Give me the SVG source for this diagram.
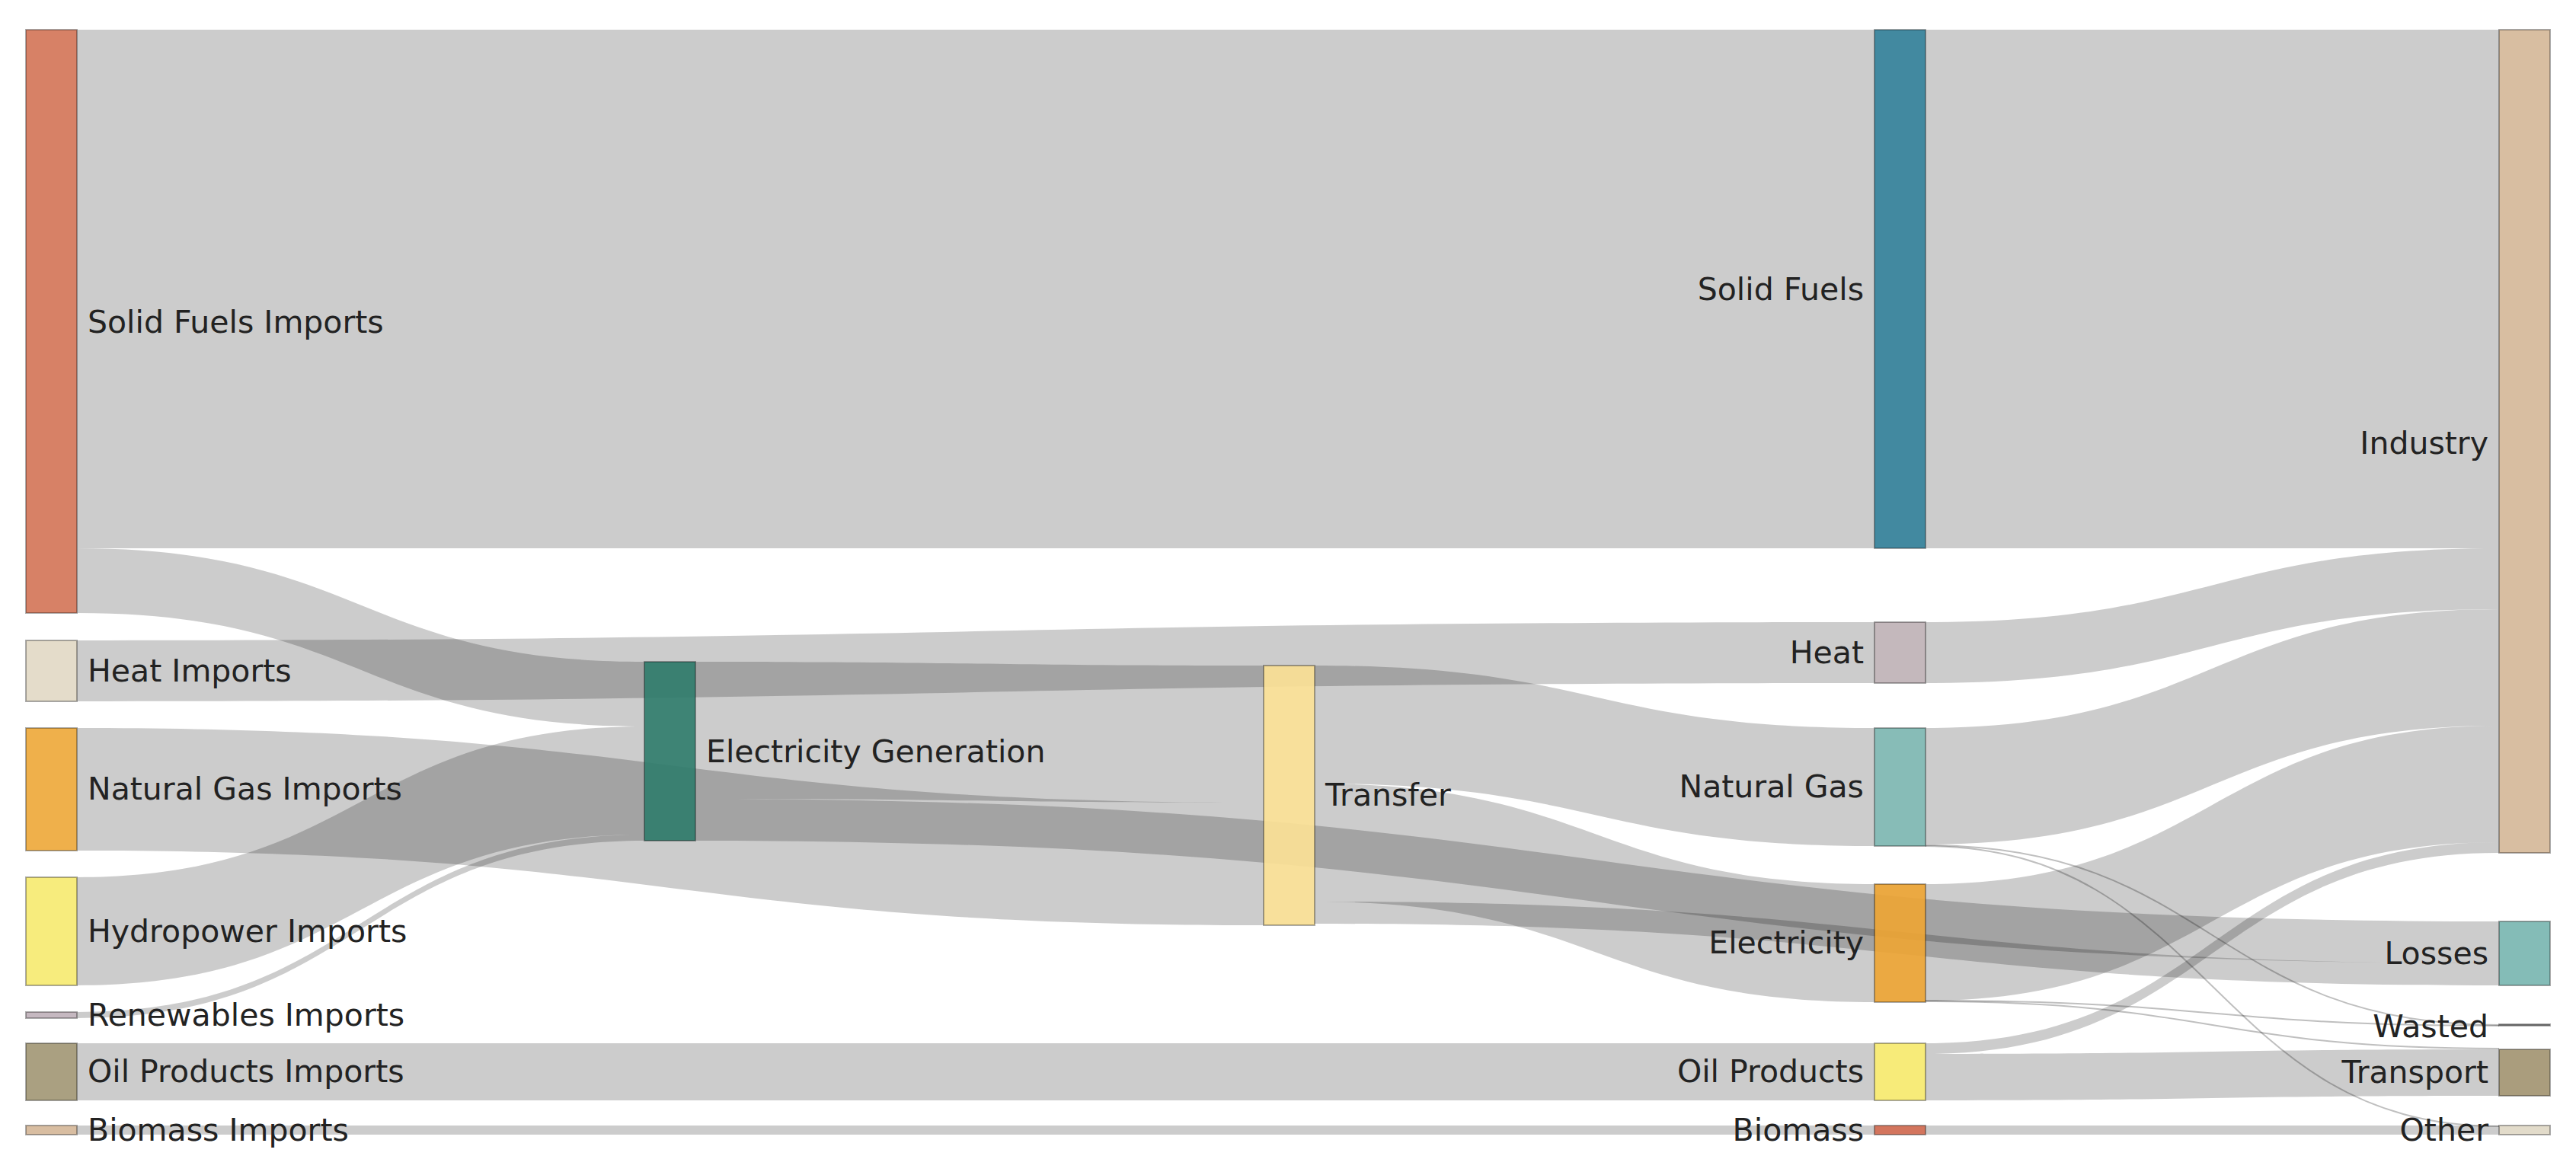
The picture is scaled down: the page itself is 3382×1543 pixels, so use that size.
<svg xmlns="http://www.w3.org/2000/svg" width="3382" height="1543" viewBox="0 0 3382 1543">
<style>
.lk{fill:rgba(0,0,0,0.2);stroke:none}
.th{fill:none;stroke:rgba(0,0,0,0.25);stroke-width:2}
.nd{stroke:rgba(0,0,0,0.35);stroke-width:2;opacity:0.92}
.lb{font-family:"DejaVu Sans",Verdana,sans-serif;font-size:41px;fill:#222}
.r{text-anchor:end}
</style>
<rect width="3382" height="1543" fill="#fff"/>
<g id="links">
<path class="lk" d="M101 39 C1281 39 1281 39 2461 39 L2461 720 C1281 720 1281 720 101 720 Z"/>
<path class="lk" d="M101 720 C473.5 720 473.5 869 846 869 L846 954 C473.5 954 473.5 805 101 805 Z"/>
<path class="lk" d="M101 841 C1281 841 1281 817 2461 817 L2461 897 C1281 897 1281 921 101 921 Z"/>
<path class="lk" d="M101 956 C880 956 880 1054 1659 1054 L1659 1215 C880 1215 880 1117 101 1117 Z"/>
<path class="lk" d="M101 1152 C473.5 1152 473.5 954 846 954 L846 1096 C473.5 1096 473.5 1294 101 1294 Z"/>
<path class="lk" d="M101 1329 C473.5 1329 473.5 1096 846 1096 L846 1104 C473.5 1104 473.5 1337 101 1337 Z"/>
<path class="lk" d="M101 1370 C1281 1370 1281 1370 2461 1370 L2461 1445 C1281 1445 1281 1445 101 1445 Z"/>
<path class="lk" d="M101 1478 C1281 1478 1281 1478 2461 1478 L2461 1490 C1281 1490 1281 1490 101 1490 Z"/>
<path class="lk" d="M913 869 C1286 869 1286 874 1659 874 L1659 1054 C1286 1054 1286 1049 913 1049 Z"/>
<path class="lk" d="M913 1049 C2097 1049 2097 1210 3281 1210 L3281 1265 C2097 1265 2097 1104 913 1104 Z"/>
<path class="lk" d="M1726 874 C2093.5 874 2093.5 956 2461 956 L2461 1111 C2093.5 1111 2093.5 1029 1726 1029 Z"/>
<path class="lk" d="M1726 1029 C2093.5 1029 2093.5 1161 2461 1161 L2461 1316 C2093.5 1316 2093.5 1184 1726 1184 Z"/>
<path class="lk" d="M1726 1184 C2503.5 1184 2503.5 1265 3281 1265 L3281 1294 C2503.5 1294 2503.5 1213 1726 1213 Z"/>
<path class="lk" d="M2528 39 C2904.5 39 2904.5 39 3281 39 L3281 720 C2904.5 720 2904.5 720 2528 720 Z"/>
<path class="lk" d="M2528 817 C2904.5 817 2904.5 720 3281 720 L3281 800 C2904.5 800 2904.5 897 2528 897 Z"/>
<path class="lk" d="M2528 956 C2904.5 956 2904.5 800 3281 800 L3281 953 C2904.5 953 2904.5 1109 2528 1109 Z"/>
<path class="lk" d="M2528 1161 C2904.5 1161 2904.5 953 3281 953 L3281 1106 C2904.5 1106 2904.5 1314 2528 1314 Z"/>
<path class="lk" d="M2528 1370 C2904.5 1370 2904.5 1106 3281 1106 L3281 1120 C2904.5 1120 2904.5 1384 2528 1384 Z"/>
<path class="lk" d="M2528 1384 C2904.5 1384 2904.5 1378 3281 1378 L3281 1439 C2904.5 1439 2904.5 1445 2528 1445 Z"/>
<path class="lk" d="M2528 1478 C2904.5 1478 2904.5 1478 3281 1478 L3281 1490 C2904.5 1490 2904.5 1490 2528 1490 Z"/>
<path class="th" d="M2528 1110 C2904.5 1110 2904.5 1346 3281 1346"/>
<path class="th" d="M2528 1111 C2904.5 1111 2904.5 1479 3281 1479"/>
<path class="th" d="M2528 1314 C2904.5 1314 2904.5 1347 3281 1347"/>
<path class="th" d="M2528 1315 C2904.5 1315 2904.5 1377 3281 1377"/>
</g>
<g id="n-sfi"><rect class="nd" x="34" y="39" width="67" height="766" fill="#d4775a"/><text class="lb" x="115" y="437">Solid Fuels Imports</text></g>
<g id="n-hi"><rect class="nd" x="34" y="841" width="67" height="80" fill="#e2dac6"/><text class="lb" x="115" y="895">Heat Imports</text></g>
<g id="n-ngi"><rect class="nd" x="34" y="956" width="67" height="161" fill="#eeaa3c"/><text class="lb" x="115" y="1050">Natural Gas Imports</text></g>
<g id="n-hyi"><rect class="nd" x="34" y="1152" width="67" height="142" fill="#f7eb72"/><text class="lb" x="115" y="1237">Hydropower Imports</text></g>
<g id="n-rei"><rect class="nd" x="34" y="1329" width="67" height="8" fill="#c1b3bb"/><text class="lb" x="115" y="1347">Renewables Imports</text></g>
<g id="n-opi"><rect class="nd" x="34" y="1370" width="67" height="75" fill="#a39877"/><text class="lb" x="115" y="1421">Oil Products Imports</text></g>
<g id="n-bi"><rect class="nd" x="34" y="1478" width="67" height="12" fill="#d5b89a"/><text class="lb" x="115" y="1498">Biomass Imports</text></g>
<g id="n-eg"><rect class="nd" x="846" y="869" width="67" height="235" fill="#2e7a6a"/><text class="lb" x="927" y="1001">Electricity Generation</text></g>
<g id="n-tr"><rect class="nd" x="1659" y="874" width="67" height="341" fill="#f8de93"/><text class="lb" x="1740" y="1058">Transfer</text></g>
<g id="n-sf"><rect class="nd" x="2461" y="39" width="67" height="681" fill="#327f98"/><text class="lb r" x="2447" y="394">Solid Fuels</text></g>
<g id="n-he"><rect class="nd" x="2461" y="817" width="67" height="80" fill="#c0b3b7"/><text class="lb r" x="2447" y="871">Heat</text></g>
<g id="n-ng"><rect class="nd" x="2461" y="956" width="67" height="155" fill="#7db7b1"/><text class="lb r" x="2447" y="1047">Natural Gas</text></g>
<g id="n-el"><rect class="nd" x="2461" y="1161" width="67" height="155" fill="#eaa233"/><text class="lb r" x="2447" y="1252">Electricity</text></g>
<g id="n-op"><rect class="nd" x="2461" y="1370" width="67" height="75" fill="#f7ea6e"/><text class="lb r" x="2447" y="1421">Oil Products</text></g>
<g id="n-bm"><rect class="nd" x="2461" y="1478" width="67" height="12" fill="#d06a50"/><text class="lb r" x="2447" y="1498">Biomass</text></g>
<g id="n-in"><rect class="nd" x="3281" y="39" width="67" height="1081" fill="#d5b99a"/><text class="lb r" x="3267" y="596">Industry</text></g>
<g id="n-lo"><rect class="nd" x="3281" y="1210" width="67" height="84" fill="#7ab7b1"/><text class="lb r" x="3267" y="1266">Losses</text></g>
<g id="n-wa"><rect class="nd" x="3281" y="1345" width="67" height="2" fill="#8a8a8a"/><text class="lb r" x="3267" y="1362">Wasted</text></g>
<g id="n-tp"><rect class="nd" x="3281" y="1378" width="67" height="61" fill="#a39572"/><text class="lb r" x="3267" y="1422">Transport</text></g>
<g id="n-ot"><rect class="nd" x="3281" y="1478" width="67" height="12" fill="#e0d8c6"/><text class="lb r" x="3267" y="1498">Other</text></g>
</svg>
